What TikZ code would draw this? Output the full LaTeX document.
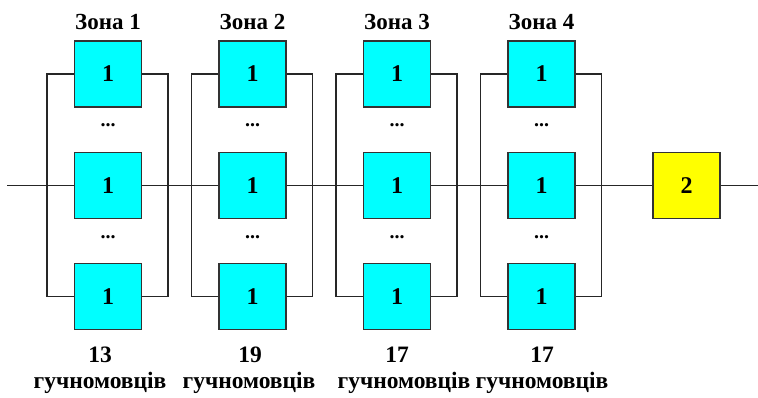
\documentclass[tikz,border=0pt]{standalone}
\usepackage{fontspec}
\setmainfont{Liberation Serif}
\usepackage{tikz}
\usetikzlibrary{positioning}
\definecolor{speakercyan}{RGB}{0,255,255}
\definecolor{ampyellow}{RGB}{255,255,0}
\definecolor{linegray}{HTML}{333333}

\begin{document}
\begin{tikzpicture}[x=1pt, y=-1pt,
  unit/.style={draw=linegray, line width=1.1pt, minimum width=67pt,
    minimum height=66pt, inner sep=0pt, font=\fontsize{24}{26}\selectfont\bfseries,
    fill=#1},
  wire/.style={draw=black!85, line width=1.4pt},
  title/.style={font=\fontsize{23}{26}\selectfont\bfseries},
  dots/.style={font=\fontsize{20}{22}\selectfont\bfseries},
  count/.style={font=\fontsize{23.5}{26}\selectfont\bfseries}
]
  \useasboundingbox (0,0) rectangle (758,397);

  % Zones of speakers in parallel
  \foreach \i/\cx/\n/\nx/\wx in {1/108/13/100/100, 2/252.5/19/250/249,
      3/397/17/397/404, 4/541.5/17/542/542}{
    \node[unit=speakercyan] (t\i) at (\cx, 74) {1};
    \node[unit=speakercyan] (m\i) at (\cx, 185.5) {1};
    \node[unit=speakercyan] (b\i) at (\cx, 296.5) {1};
    \node[dots] (d\i a) at (\cx, 125) {...};
    \node[dots] (d\i b) at (\cx, 237) {...};
    \coordinate (L\i) at (\cx-61, 185.5);
    \coordinate (R\i) at (\cx+60, 185.5);
    \draw[wire] (t\i.west) -| (L\i) |- (b\i.west);
    \draw[wire] (t\i.east) -| (R\i) |- (b\i.east);
    \draw[wire] (L\i) -- (m\i.west);
    \draw[wire] (m\i.east) -- (R\i);
    \node[title] (z\i) at (\cx, 22) {Зона \i};
    \node[count] (n\i) at (\nx, 355) {\n};
    \node[count] (w\i) at (\wx, 383) {гучномовців};
  }

  % Amplifier
  \node[unit=ampyellow] (amp) at (686.5, 185.5) {2};

  % Main line
  \coordinate (in) at (7, 185.5);
  \coordinate (out) at (758, 185.5);
  \draw[wire] (in) -- (L1);
  \draw[wire] (R1) -- (L2);
  \draw[wire] (R2) -- (L3);
  \draw[wire] (R3) -- (L4);
  \draw[wire] (R4) -- (amp.west);
  \draw[wire] (amp.east) -- (out);
\end{tikzpicture}
\end{document}
